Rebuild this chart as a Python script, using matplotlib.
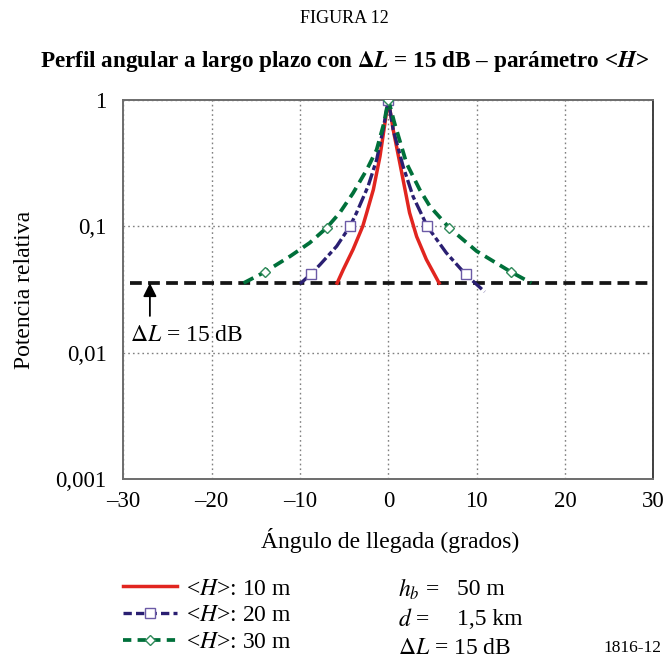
import matplotlib
matplotlib.use("Agg")
import matplotlib.pyplot as plt
from matplotlib.lines import Line2D

plt.rcParams['font.family'] = ['Liberation Serif', 'DejaVu Serif']
plt.rcParams['mathtext.fontset'] = 'stix'
plt.rcParams['lines.scale_dashes'] = False

# Perfiles angulares (angulo en grados, potencia relativa)
ang_h10 = [-5.8, -5.1, -4.0, -2.9, -2.45, -1.7, -0.95, -0.5, 0.0,
           0.55, 1.3, 2.4, 3.2, 4.3, 5.75]
pot_h10 = [0.0355, 0.0455, 0.0655, 0.1, 0.128, 0.195, 0.357, 0.58, 1.0,
           0.58, 0.316, 0.128, 0.083, 0.0546, 0.0355]

ang_h20 = [-10.0, -8.8, -7.7, -5.85, -4.35, -3.6, -2.3, -1.33, -0.6, 0.0,
           0.55, 1.67, 2.8, 4.4, 6.55, 8.75, 10.9]
pot_h20 = [0.035, 0.0416, 0.05, 0.0695, 0.1, 0.128, 0.207, 0.336, 0.58, 1.0,
           0.58, 0.298, 0.172, 0.1, 0.0617, 0.0416, 0.0303]
marcas_h20 = [1, 4, 9, 13, 15]

ang_h30 = [-16.4, -14.0, -11.1, -8.9, -7.0, -5.5, -4.0, -2.45, -1.33, -0.5, 0.0,
           0.7, 2.05, 3.55, 4.7, 6.9, 10.0, 13.9, 16.2]
pot_h30 = [0.0355, 0.0434, 0.058, 0.074, 0.097, 0.128, 0.183, 0.28, 0.403, 0.655, 1.0,
           0.655, 0.316, 0.195, 0.144, 0.097, 0.0635, 0.0434, 0.0355]
marcas_h30 = [1, 4, 10, 15, 17]

# Umbral Delta L = 15 dB
umbral = 0.0355
umbral_ang = [-29.2, 30]

xticks = [-30, -20, -10, 0, 10, 20, 30]
xtick_labels = ['–30', '–20', '–10', '0', '10', '20', '30']
yticks = [0.001, 0.01, 0.1, 1]
ytick_labels = ['0,001', '0,01', '0,1', '1']

rojo = '#e1251f'
azul = '#2a1f72'
azul_marca = '#6b5aa6'
verde = '#00703a'
verde_marca = '#2f8a5a'

fs = 17

fig = plt.figure(figsize=(6.67, 6.6), dpi=100)
ax = fig.add_axes([0.185, 0.2745, 0.7945, 0.574])

ax.set_yscale('log')
ax.set_xlim(-30, 30)
ax.set_ylim(0.001, 1)

ax.plot(umbral_ang, [umbral, umbral], color='#151515', lw=2.7,
        dashes=(8.5, 4.5), zorder=2)

ax.plot(ang_h10, pot_h10, color=rojo, lw=2.5, zorder=3)
ax.plot(ang_h20, pot_h20, color=azul, lw=2.4, dashes=(9, 2.5, 3.5, 2.5),
        marker='s', markevery=marcas_h20, ms=6.5, mfc='white', mec=azul_marca,
        mew=1.0, zorder=4)
ax.plot(ang_h30, pot_h30, color=verde, lw=2.7, dashes=(8, 4.5),
        marker='D', markevery=marcas_h30, ms=5.5, mfc='white', mec=verde_marca,
        mew=1.0, zorder=5)

ax.annotate('', xy=(-27, umbral), xytext=(-27, 0.0195),
            arrowprops=dict(arrowstyle='-|>', color='black', lw=1.3,
                            mutation_scale=20, shrinkA=0, shrinkB=0))
ax.text(-29.3, 0.0137, r'$\Delta L$ = 15 dB', fontsize=fs, va='center', ha='left')

ax.set_xticks(xticks)
ax.set_xticklabels(xtick_labels, fontsize=16.5)
ax.set_yticks(yticks)
ax.set_yticklabels(ytick_labels, fontsize=16.5)
ax.minorticks_off()
ax.tick_params(axis='both', length=0)
ax.tick_params(axis='x', pad=9)
ax.tick_params(axis='y', pad=12)
ax.grid(True, color='#808080', linestyle=(0, (1.2, 2.2)), lw=1.0)
for lado in ['left', 'top', 'bottom']:
    ax.spines[lado].set_color('#6d6d6d')
    ax.spines[lado].set_linewidth(1.4)
ax.spines['right'].set_color('#202020')
ax.spines['right'].set_linewidth(1.2)

fig.text(0.517, 0.972, 'FIGURA 12', ha='center', va='center', fontsize=13)
fig.text(0.517, 0.907,
         r'Perfil angular a largo plazo con $\mathbf{\Delta}\mathbfit{L}$ = 15 dB – parámetro <$\mathbfit{H}$>',
         ha='center', va='center', fontsize=16.7, fontweight='bold')
fig.text(0.036, 0.561, 'Potencia relativa', rotation=90, ha='center',
         va='center', fontsize=fs)
fig.text(0.585, 0.181, 'Ángulo de llegada (grados)', ha='center',
         va='center', fontsize=fs)

handles = [
    Line2D([], [], color=rojo, lw=2.5),
    Line2D([], [], color=azul, lw=2.4, dashes=(6, 3), marker='s', ms=6.5,
           mfc='white', mec=azul_marca, mew=1.0),
    Line2D([], [], color=verde, lw=2.7, dashes=(6, 4.5), marker='D', ms=5.5,
           mfc='white', mec=verde_marca, mew=1.0),
]
labels = [r'<$H$>: 10 m', r'<$H$>: 20 m', r'<$H$>: 30 m']
fig.legend(handles, labels, loc='upper left', bbox_to_anchor=(0.184, 0.124),
           frameon=False, fontsize=fs, handlelength=2.3, handletextpad=0.38,
           labelspacing=0.22, borderpad=0.0, borderaxespad=0.0)

fig.text(0.597, 0.107, r'$h_b$ =', ha='left', va='center', fontsize=fs)
fig.text(0.685, 0.107, '50 m', ha='left', va='center', fontsize=fs)
fig.text(0.597, 0.061, r'$d$ =', ha='left', va='center', fontsize=fs)
fig.text(0.685, 0.061, '1,5 km', ha='left', va='center', fontsize=fs)
fig.text(0.597, 0.018, r'$\Delta L$ = 15 dB', ha='left', va='center', fontsize=fs)
fig.text(0.992, 0.018, '1816-12', ha='right', va='center', fontsize=12.5)

fig.savefig('out.png', dpi=100)
